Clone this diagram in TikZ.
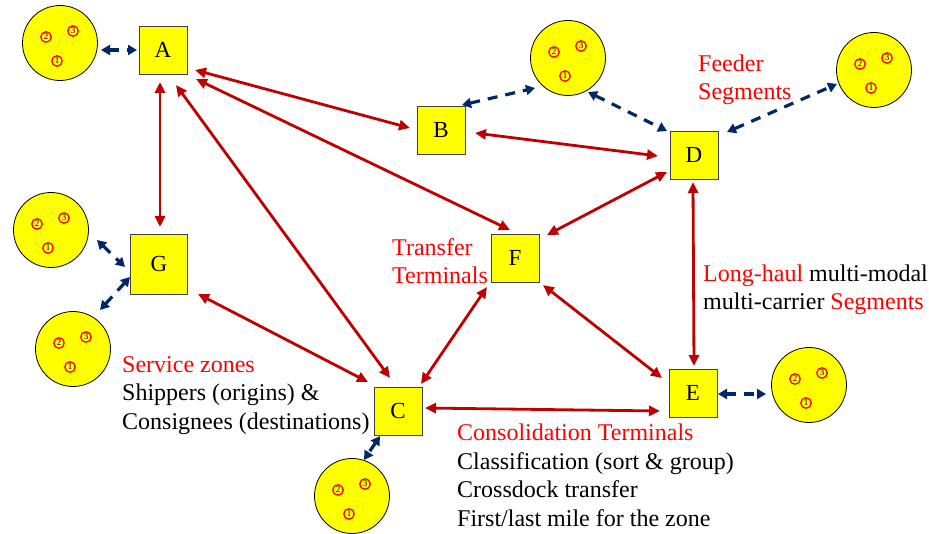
\documentclass[tikz,border=0pt]{standalone}
\usepackage{fontspec}
\setmainfont{Liberation Serif}
\usetikzlibrary{arrows.meta,calc}
\definecolor{ared}{RGB}{192,0,0}
\definecolor{tred}{RGB}{255,0,0}
\definecolor{anavy}{RGB}{0,40,104}
\definecolor{zyellow}{RGB}{255,255,0}
\newcommand\zonenode[3]{%
  \node[zone] (#1) at (#2,#3) {};
  \node[shipper] (#1-2) at ($(#1)+(-14,-6)$) {2};
  \node[shipper] (#1-3) at ($(#1)+(13,-12)$) {3};
  \node[shipper] (#1-1) at ($(#1)+(-3,18)$) {1};
}
\begin{document}
\begin{tikzpicture}[x=1pt,y=-1pt,
  term/.style={draw=black!75,line width=0.9pt,fill=zyellow,minimum size=48pt,inner sep=0pt,font=\fontsize{23}{23}\selectfont},
  zone/.style={circle,draw=black,line width=0.8pt,fill=zyellow,minimum size=75pt,inner sep=0pt},
  shipper/.style={circle,draw=tred,line width=1.3pt,fill=zyellow,text=black,minimum size=10.5pt,inner sep=0pt,font=\fontsize{9}{9}\selectfont},
  haul/.style={draw=ared,line width=2.8pt,{Triangle[length=11pt,width=10pt]}-{Triangle[length=11pt,width=10pt]}},
  feeder/.style={draw=anavy,line width=3.2pt,dash pattern=on 10pt off 8pt,{Triangle[length=9pt,width=10pt]}-{Triangle[length=9pt,width=10pt]}},
  lbl/.style={anchor=base west,align=left,font=\fontsize{24}{28.5}\selectfont,inner sep=0pt}
]
\useasboundingbox (0,0) rectangle (929,534);

% terminals
\node[term] (A) at (163,50) {A};
\node[term] (B) at (441,130) {B};
\node[term] (D) at (694,155) {D};
\node[term,minimum width=57pt,minimum height=60pt] (G) at (159,264) {G};
\node[term] (F) at (515,258) {F};
\node[term] (C) at (398,411) {C};
\node[term] (E) at (693,393) {E};

% service zones
\zonenode{c1}{60}{43}
\zonenode{c2}{568}{58}
\zonenode{c3}{874}{70}
\zonenode{c4}{51}{230}
\zonenode{c5}{73}{349}
\zonenode{c6}{352}{496}
\zonenode{c7}{809}{385}

% long-haul segments
\draw[haul] ($(A)+(32,20)$) -- ($(B)+(-31,-2)$);
\draw[haul] ($(A)+(-3,32)$) -- ($(G)+(1,-37)$);
\draw[haul] ($(A)+(13,35)$) -- ($(C)+(-8,-33)$);
\draw[haul] ($(A)+(33,29)$) -- ($(F)+(-5,-28)$);
\draw[haul] ($(B)+(34,3)$) -- ($(D)+(-36,1)$);
\draw[haul] ($(D)+(-27,17)$) -- ($(F)+(32,-23)$);
\draw[haul] ($(D)+(-1,27)$) -- ($(E)+(1,-27)$);
\draw[haul] ($(F)+(-28,29)$) -- ($(C)+(23,-27)$);
\draw[haul] ($(F)+(28,27)$) -- ($(E)+(-31,-15)$);
\draw[haul] ($(G)+(39,30)$) -- ($(C)+(-30,-29)$);
\draw[haul] ($(C)+(27,-3)$) -- ($(E)+(-33,18)$);

% feeder segments
\draw[feeder] ($(c1)+(41,7)$) -- ($(A)+(-26,0)$);
\draw[feeder] ($(B)+(21,-25)$) -- ($(c2)+(-33,30)$);
\draw[feeder] ($(c2)+(20,34)$) -- ($(D)+(-27,-24)$);
\draw[feeder] ($(D)+(33,-23)$) -- ($(c3)+(-37,14)$);
\draw[feeder] ($(c4)+(46,10)$) -- ($(G)+(-34,3)$);
\draw[feeder] ($(G)+(-29,13)$) -- ($(c5)+(27,-39)$);
\draw[feeder] ($(C)+(-18,25)$) -- ($(c6)+(12,-36)$);
\draw[feeder] ($(E)+(25,1)$) -- ($(c7)+(-43,9)$);

% labels (anchored at the baseline of their last line)
\node[lbl,text=tred] (lfeed) at (698,100) {Feeder\\Segments};
\node[lbl,text=tred] (ltrans) at (392,284) {Transfer\\Terminals};
\node[lbl] (llong) at (703,310) {\textcolor{tred}{Long-haul} multi-modal\\multi-carrier \textcolor{tred}{Segments}};
\node[lbl] (lserv) at (122,429) {\textcolor{tred}{Service zones}\\Shippers (origins) \&\\Consignees (destinations)};
\node[lbl] (lcons) at (457,526) {\textcolor{tred}{Consolidation Terminals}\\Classification (sort \& group)\\Crossdock transfer\\First/last mile for the zone};
\end{tikzpicture}
\end{document}
